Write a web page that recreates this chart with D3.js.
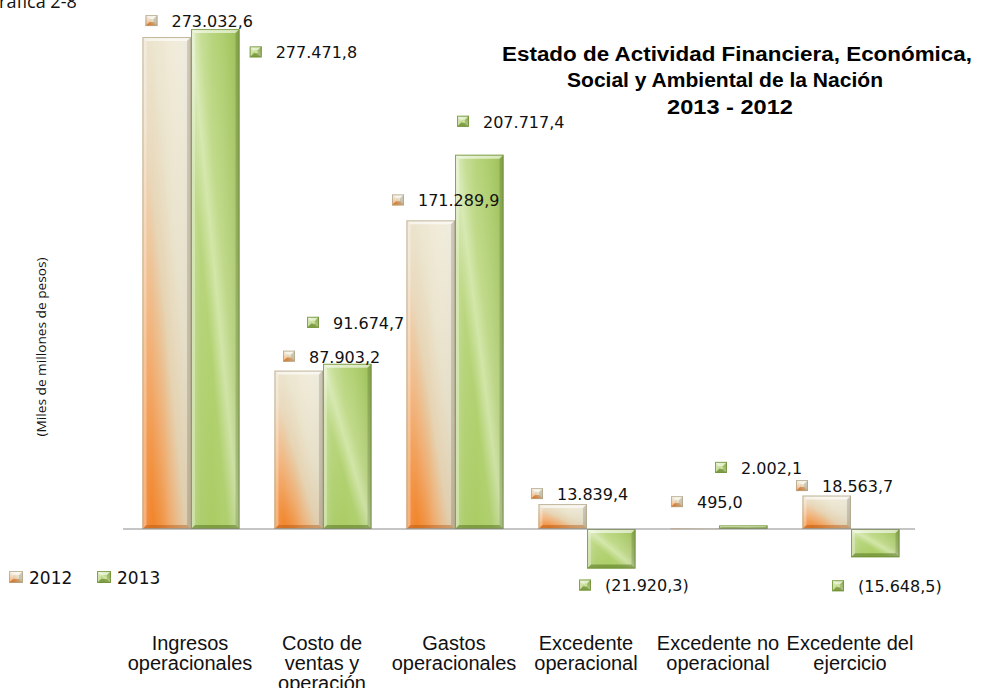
<!DOCTYPE html>
<html>
<head>
<meta charset="utf-8">
<script src="https://cdn.jsdelivr.net/npm/d3@7/dist/d3.min.js"></script>
<style>
  html, body { margin: 0; padding: 0; background: #ffffff; }
  svg { display: block; }
</style>
</head>
<body>
<script>
// ---------- DATA ----------
const categories = [
  ["Ingresos", "operacionales"],
  ["Costo de", "ventas y", "operación"],
  ["Gastos", "operacionales"],
  ["Excedente", "operacional"],
  ["Excedente no", "operacional"],
  ["Excedente del", "ejercicio"]
];
const seriesNames = ["2012", "2013"];
const values2012 = [273032.6, 87903.2, 171289.9, 13839.4, 495.0, 18563.7];
const values2013 = [277471.8, 91674.7, 207717.4, -21920.3, 2002.1, -15648.5];
const titleLines = [
  "Estado de Actividad Financiera, Económica,",
  "Social y Ambiental de la Nación",
  "2013 - 2012"
];
const yAxisTitle = "(Miles de millones de pesos)";
const chartNumber = "Gráfica 2-8";

// ---------- LAYOUT (label offsets relative to bar ends) ----------
const labelOffsets = {
  "2012": [[29, -10], [34.5, -8], [11.5, -14], [18.5, -4], [26.5, -20], [19.5, -3.5]],
  "2013": [[84.7, 29.3], [10, -35], [28, -27], [18, 23], [22, -51.5], [7, 35]]
};

const W = 981, H = 688;
const svg = d3.select("body").append("svg").attr("width", W).attr("height", H);
const defs = svg.append("defs");

function grad(id, x1, y1, x2, y2, stops) {
  const g = defs.append("linearGradient").attr("id", id)
    .attr("x1", x1).attr("y1", y1).attr("x2", x2).attr("y2", y2);
  stops.forEach(s => g.append("stop").attr("offset", s[0]).attr("stop-color", s[1]));
}
grad("g2012", 0, 1, 1, 0, [[0, "#f06400"], [0.12, "#f07a18"], [0.28, "#f0a868"], [0.45, "#e6d3b2"], [0.62, "#ebe4cd"], [0.85, "#f3eedd"], [1, "#f8f5e9"]]);
grad("g2013", 0, 1, 1, 0, [[0, "#a0c556"], [0.38, "#b1d16f"], [0.5, "#d2e6a8"], [0.6, "#c0da8a"], [1, "#a2c75a"]]);
grad("hl", 0, 0, 1, 0, [[0, "rgba(255,255,255,0.3)"], [0.2, "rgba(255,255,255,0.1)"], [0.45, "rgba(255,255,255,0)"], [0.9, "rgba(0,0,0,0.03)"], [1, "rgba(0,0,0,0.1)"]]);

const strokeCol = { "2012": "#b3a88a", "2013": "#6f9236" };
const bottomCol = { "2012": "rgba(170,80,10,0.4)", "2013": "rgba(70,100,20,0.45)" };

function bevelRect(g, x, y, w, h, s) {
  g.append("rect").attr("x", x).attr("y", y).attr("width", w).attr("height", h)
    .attr("fill", "url(#g" + s + ")");
  g.append("rect").attr("x", x).attr("y", y).attr("width", w).attr("height", h)
    .attr("fill", "url(#hl)");
  const b = Math.min(4, h / 2, w / 2);
  if (b >= 0.8) {
    const P = pts => pts.map(p => p.join(",")).join(" ");
    g.append("polygon").attr("points", P([[x, y], [x + w, y], [x + w - b, y + b], [x + b, y + b]]))
      .attr("fill", "rgba(255,255,255,0.6)");
    g.append("polygon").attr("points", P([[x, y], [x + b, y + b], [x + b, y + h - b], [x, y + h]]))
      .attr("fill", "rgba(255,255,255,0.3)");
    g.append("polygon").attr("points", P([[x + w, y], [x + w, y + h], [x + w - b, y + h - b], [x + w - b, y + b]]))
      .attr("fill", "rgba(0,0,0,0.12)");
    g.append("polygon").attr("points", P([[x, y + h], [x + w, y + h], [x + w - b, y + h - b], [x + b, y + h - b]]))
      .attr("fill", bottomCol[s]);
  }
  g.append("rect").attr("x", x + 0.5).attr("y", y + 0.5)
    .attr("width", Math.max(0, w - 1)).attr("height", Math.max(0, h - 1))
    .attr("fill", "none").attr("stroke", strokeCol[s]).attr("stroke-width", 1)
    .attr("stroke-opacity", 0.8);
}

// ---------- SCALES ----------
const catIdx = categories.map((c, i) => i);
const x0 = d3.scaleBand().domain(catIdx).range([125, 917]).paddingInner(0.265).paddingOuter(0.1325);
const x1 = d3.scaleBand().domain(seriesNames).range([0, x0.bandwidth()]);
const y = d3.scaleLinear().domain([0, 280000]).range([529, 24.5]);

const locale = d3.formatLocale({ decimal: ",", thousands: ".", grouping: [3], currency: ["$", ""] });
const f = locale.format(",.1f");
const fmt = v => v < 0 ? "(" + f(-v) + ")" : f(v);

const dataBy = { "2012": values2012, "2013": values2013 };

// ---------- BARS ----------
const gBars = svg.append("g");
seriesNames.forEach(s => {
  dataBy[s].forEach((v, i) => {
    const bx = x0(i) + x1(s);
    const bw = x1.bandwidth();
    const top = y(Math.max(0, v)), bot = y(Math.min(0, v));
    bevelRect(gBars.append("g"), bx, top, bw, Math.max(1, bot - top), s);
  });
});

// zero axis line
svg.append("line").attr("x1", 123).attr("x2", 915).attr("y1", y(0)).attr("y2", y(0))
  .attr("stroke", "#8c8c8c").attr("stroke-width", 1.2);

// ---------- DATA LABELS ----------
const gLab = svg.append("g");
seriesNames.forEach(s => {
  dataBy[s].forEach((v, i) => {
    const bx = x0(i) + x1(s);
    const anchorY = y(v);
    const [dx, dy] = labelOffsets[s][i];
    const tx = bx + dx, ty = anchorY + dy;
    bevelRect(gLab.append("g"), tx - 26, ty - 12, 12, 11, s);
    gLab.append("text").attr("x", tx).attr("y", ty)
      .attr("font-family", "DejaVu Sans, Verdana, sans-serif").attr("font-size", 16)
      .attr("fill", "#111").text(fmt(v));
  });
});

// ---------- CATEGORY LABELS ----------
const gCat = svg.append("g");
categories.forEach((lines, i) => {
  const cx = x0(i) + x0.bandwidth() / 2 - 1;
  lines.forEach((ln, j) => {
    gCat.append("text").attr("x", cx).attr("y", 650 + j * 20)
      .attr("text-anchor", "middle")
      .attr("font-family", "Liberation Sans, Arial, sans-serif").attr("font-size", 20)
      .attr("fill", "#111").text(ln);
  });
});

// ---------- TITLE ----------
const titleSpecs = [[737, 61, 470], [725, 87, 316], [730, 114, 126]];
titleLines.forEach((t, i) => {
  svg.append("text").attr("x", titleSpecs[i][0]).attr("y", titleSpecs[i][1])
    .attr("text-anchor", "middle")
    .attr("font-family", "Liberation Sans, Arial, sans-serif").attr("font-weight", "bold")
    .attr("font-size", 19.5).attr("fill", "#000")
    .attr("textLength", titleSpecs[i][2]).attr("lengthAdjust", "spacingAndGlyphs")
    .text(t);
});

// ---------- Y AXIS TITLE ----------
svg.append("text").attr("transform", "translate(46,347) rotate(-90)")
  .attr("text-anchor", "middle")
  .attr("font-family", "Open Sans, sans-serif").attr("font-size", 12)
  .attr("textLength", 179).attr("lengthAdjust", "spacingAndGlyphs")
  .attr("fill", "#111").text(yAxisTitle);

// ---------- CHART NUMBER ----------
svg.append("text").attr("x", -14).attr("y", 8)
  .attr("font-family", "Open Sans, sans-serif").attr("font-size", 18)
  .attr("fill", "#111").text(chartNumber);

// ---------- LEGEND ----------
const gLeg = svg.append("g");
const legX = [9, 97];
seriesNames.forEach((s, i) => {
  bevelRect(gLeg.append("g"), legX[i], 571, 14, 12, s);
  gLeg.append("text").attr("x", legX[i] + 20).attr("y", 583.5)
    .attr("font-family", "DejaVu Sans, Verdana, sans-serif").attr("font-size", 17)
    .attr("fill", "#111").text(s);
});
</script>
</body>
</html>
